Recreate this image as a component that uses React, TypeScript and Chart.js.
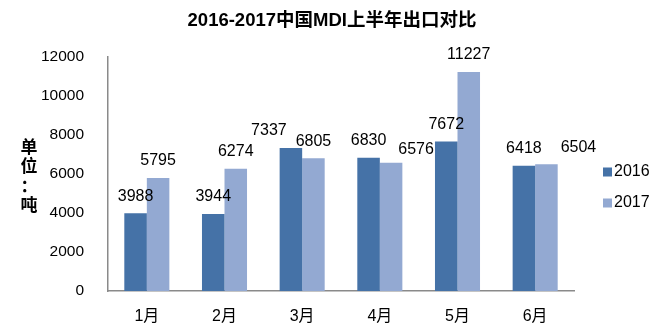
import React, { useEffect, useRef } from "react";
import { Chart, registerables } from "chart.js";

Chart.register(...registerables);

const TITLE = "2016-2017中国MDI上半年出口对比";
const Y_TITLE_CHARS = ["单", "位", "：", "吨"];
const categories = ["1月", "2月", "3月", "4月", "5月", "6月"];
const seriesNames = ["2016", "2017"];
const values2016 = [3988, 3944, 7337, 6830, 7672, 6418];
const values2017 = [5795, 6274, 6805, 6576, 11227, 6504];
const colors = ["#4572A7", "#93A9D2"];
// small label nudges (dx, dy) copied from the reference's hand-placed labels
const nudge2016 = [[0, 0], [0, 0], [-22, 0], [0, 0], [0, 0], [0, 0]];
const nudge2017 = [[0, 0], [0, 0], [0, 0], [25, 4], [0, 0], [32, 0]];

const LABEL_FONT = '16px "Liberation Sans", Arial, sans-serif';

const decorPlugin = {
  id: "decor",
  afterDatasetsDraw(chart: any) {
    const ctx = chart.ctx;
    const area = chart.chartArea;
    ctx.save();
    ctx.font = LABEL_FONT;
    ctx.fillStyle = "#000";
    ctx.textAlign = "center";
    ctx.textBaseline = "middle";
    const nudges = [nudge2016, nudge2017];
    chart.data.datasets.forEach((ds: any, di: number) => {
      const meta = chart.getDatasetMeta(di);
      meta.data.forEach((el: any, i: number) => {
        const [dx, dy] = nudges[di][i];
        ctx.fillText(String(ds.data[i]), el.x + dx, el.y - 17 + dy);
      });
    });
    ctx.font = 'bold 18.5px "Liberation Sans", "Noto Sans CJK SC", sans-serif';
    ctx.fillText(TITLE, 332, 21);
    ctx.font = 'bold 17px "Noto Sans CJK SC", sans-serif';
    const ys = [147, 166, 186, 205];
    Y_TITLE_CHARS.forEach((c, i) => ctx.fillText(c, 29, ys[i]));
    ctx.font = LABEL_FONT;
    ctx.textAlign = "left";
    chart.data.datasets.forEach((ds: any, di: number) => {
      const cy = 172 + di * 31;
      ctx.fillStyle = ds.backgroundColor;
      ctx.fillRect(area.right + 29, cy - 4.5, 9, 9);
      ctx.fillStyle = "#000";
      ctx.fillText(ds.label, area.right + 40, cy);
    });
    ctx.restore();
  },
};

export default function App() {
  const ref = useRef<HTMLCanvasElement>(null);
  useEffect(() => {
    document.body.style.margin = "0";
    const chart = new Chart(ref.current as HTMLCanvasElement, {
      type: "bar",
      data: {
        labels: categories,
        datasets: [
          { label: seriesNames[0], data: values2016, backgroundColor: colors[0] },
          { label: seriesNames[1], data: values2017, backgroundColor: colors[1] },
        ],
      },
      options: {
        animation: false,
        responsive: false,
        devicePixelRatio: 1,
        layout: { padding: { top: 57, right: 92, left: 0, bottom: 0 } },
        datasets: { bar: { categoryPercentage: 0.58, barPercentage: 1 } },
        plugins: {
          legend: { display: false },
          title: { display: false },
          tooltip: { enabled: false },
        },
        scales: {
          x: {
            grid: { display: false },
            border: { display: true, color: "#8a8a8a", width: 1.5 },
            ticks: {
              color: "#000",
              padding: 8,
              font: { size: 16, family: '"Liberation Sans", "Noto Sans CJK SC", sans-serif' },
            },
            afterFit: (s: any) => {
              s.height = 42;
            },
          },
          y: {
            min: 0,
            max: 12000,
            grid: { display: false },
            border: { display: true, color: "#8a8a8a", width: 1.5 },
            ticks: {
              stepSize: 2000,
              color: "#000",
              padding: 16,
              font: { size: 15.5, family: '"Liberation Sans", Arial, sans-serif' },
              callback: (v: any) => String(v),
            },
            afterFit: (s: any) => {
              s.width = 108;
            },
          },
        },
      },
      plugins: [decorPlugin],
    });
    return () => chart.destroy();
  }, []);
  return (
    <div style={{ width: 666, height: 333, background: "#fff" }}>
      <canvas ref={ref} width={666} height={333} />
    </div>
  );
}
